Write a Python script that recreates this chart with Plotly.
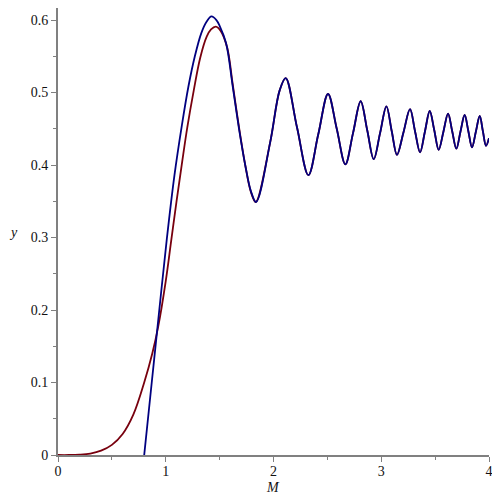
import plotly.graph_objects as go

# values
red_m = [0, 0.1, 0.2, 0.3, 0.4, 0.5, 0.6, 0.7, 0.8, 0.875, 0.93, 1.0, 1.05, 1.1, 1.15,
         1.2, 1.26, 1.32, 1.38, 1.42, 1.465, 1.51, 1.57, 1.62, 1.68, 1.74, 1.79, 1.835]
red_y = [0, 0, 0.0005, 0.002, 0.006, 0.014, 0.029, 0.056, 0.1, 0.14, 0.177, 0.24, 0.295,
         0.35, 0.402, 0.452, 0.503, 0.548, 0.577, 0.587, 0.591, 0.585, 0.562, 0.513, 0.452,
         0.398, 0.363, 0.349]

navy_m = [0.80, 0.87, 0.94, 1.01, 1.08, 1.15, 1.21, 1.27, 1.33, 1.38, 1.424, 1.47, 1.50,
          1.56, 1.62, 1.68, 1.74, 1.79, 1.838]
navy_y = [0, 0.1, 0.2, 0.298, 0.385, 0.455, 0.508, 0.55, 0.582, 0.598, 0.605, 0.6, 0.592,
          0.568, 0.51, 0.45, 0.398, 0.364, 0.349]

# oscillating tail, both curves overlap here
tail_m = [1.97, 2.057, 2.113, 2.218, 2.324, 2.415, 2.506, 2.587, 2.667, 2.738, 2.809,
          2.870, 2.930, 2.989, 3.048, 3.097, 3.146, 3.206, 3.267, 3.313, 3.360, 3.405,
          3.450, 3.492, 3.533, 3.577, 3.620, 3.658, 3.697, 3.735, 3.774, 3.808, 3.842,
          3.878, 3.914, 3.944, 3.972, 4.0]
tail_y = [0.432, 0.503, 0.520, 0.452, 0.386, 0.442, 0.498, 0.450, 0.401, 0.444, 0.488,
          0.448, 0.408, 0.444, 0.481, 0.447, 0.414, 0.445, 0.477, 0.447, 0.4175, 0.446,
          0.4745, 0.448, 0.421, 0.446, 0.471, 0.447, 0.4225, 0.446, 0.469, 0.447, 0.4244,
          0.446, 0.4676, 0.446, 0.4265, 0.437]

fig = go.Figure()
fig.add_trace(go.Scatter(x=red_m + tail_m, y=red_y + tail_y, mode='lines',
                         line=dict(color='#78000E', width=1.8, shape='spline'),
                         showlegend=False))
fig.add_trace(go.Scatter(x=navy_m + tail_m, y=navy_y + tail_y, mode='lines',
                         line=dict(color='#000080', width=1.8, shape='spline'),
                         showlegend=False))

axis_font = dict(family='Liberation Serif', size=14, color='#111111')
fig.update_xaxes(range=[0, 4], dtick=1, ticks='outside', ticklen=5, tickcolor='#808080',
                 showline=True, linecolor='#808080', linewidth=2, showgrid=False,
                 zeroline=False, tickfont=axis_font, ticklabelstandoff=-3,
                 minor=dict(dtick=0.5, ticks='outside', ticklen=3, tickcolor='#808080'))
fig.update_yaxes(range=[0, 0.6166], dtick=0.1, ticks='outside', ticklen=5, tickcolor='#808080',
                 showline=True, linecolor='#808080', linewidth=2, showgrid=False,
                 zeroline=False, tickfont=axis_font,
                 minor=dict(dtick=0.05, ticks='outside', ticklen=3, tickcolor='#808080'))

# page body has an 8px margin, so the figure is a bit smaller than the window
fig.add_annotation(text='<i>y</i>', x=-0.104, y=0.497, xref='paper', yref='paper',
                   xanchor='center', yanchor='middle', showarrow=False, font=axis_font)
fig.add_annotation(text='<i>M</i>', x=0.499, y=-0.0735, xref='paper', yref='paper',
                   xanchor='center', yanchor='middle', showarrow=False, font=axis_font)

fig.update_layout(width=492, height=492, margin=dict(l=50, r=11, t=0, b=45),
                  font=axis_font, plot_bgcolor='white', paper_bgcolor='white')
fig.write_html("out.html")
